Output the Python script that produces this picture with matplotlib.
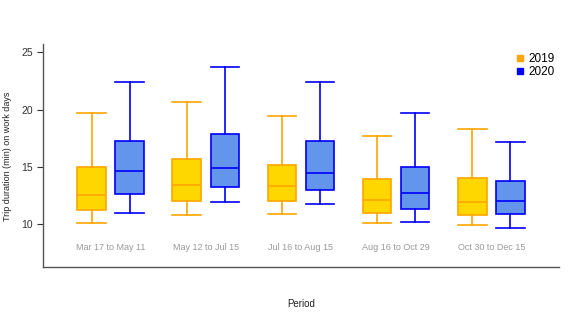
import matplotlib
matplotlib.use("Agg")
import matplotlib.pyplot as plt
from matplotlib.lines import Line2D

plt.rcParams['font.family'] = ['Liberation Sans', 'DejaVu Sans']

periods = ["Mar 17 to May 11", "May 12 to Jul 15", "Jul 16 to Aug 15",
           "Aug 16 to Oct 29", "Oct 30 to Dec 15"]
# five-number summaries: low whisker, Q1, median, Q3, high whisker
stats_2019 = [
    [10.1, 11.2, 12.5, 15.0, 19.7],
    [10.8, 12.0, 13.4, 15.7, 20.7],
    [10.9, 12.0, 13.3, 15.2, 19.4],
    [10.1, 11.0, 12.1, 13.9, 17.7],
    [9.9, 10.8, 11.9, 14.0, 18.3],
]
stats_2020 = [
    [11.0, 12.6, 14.6, 17.3, 22.4],
    [11.9, 13.2, 14.9, 17.9, 23.7],
    [11.8, 13.0, 14.5, 17.3, 22.4],
    [10.2, 11.3, 12.7, 15.0, 19.7],
    [9.7, 10.9, 12.0, 13.8, 17.2],
]
years = ["2019", "2020"]

fig = plt.figure(figsize=(5.81, 3.22), dpi=100)
ax = fig.add_axes([0.074, 0.1717, 0.888, 0.6913])

def to_bxp(stats):
    return [dict(whislo=s[0], q1=s[1], med=s[2], q3=s[3], whishi=s[4], fliers=[])
            for s in stats]

styles = [
    dict(fill="#FFD700", edge="#FFA500", off=-0.2),
    dict(fill="#6495ED", edge="#0000FF", off=0.2),
]
for stats, st in zip([stats_2019, stats_2020], styles):
    pos = [i + st["off"] for i in range(len(periods))]
    ax.bxp(to_bxp(stats), positions=pos, widths=0.3, patch_artist=True,
           showfliers=False,
           boxprops=dict(facecolor=st["fill"], edgecolor=st["edge"], linewidth=1.2),
           medianprops=dict(color=st["edge"], linewidth=1.2),
           whiskerprops=dict(color=st["edge"], linewidth=1.2),
           capprops=dict(color=st["edge"], linewidth=1.2),
           capwidths=0.3)

for i, p in enumerate(periods):
    ax.text(i, 8.0, p, ha="center", va="center", fontsize=6.5, color="#999999")

ax.set_xlim(-0.71, 4.71)
ax.set_ylim(6.28, 25.72)
ax.set_yticks([10, 15, 20, 25])
ax.set_xticks([])
for s in ["top", "right"]:
    ax.spines[s].set_visible(False)
for s in ["left", "bottom"]:
    ax.spines[s].set_color("#555555")
    ax.spines[s].set_linewidth(1.0)
ax.tick_params(axis="y", labelsize=7.5, colors="#333333", length=4, width=0.8)
fig.text(0.013, 0.515, "Trip duration (min) on work days", rotation=90,
         ha="center", va="center", fontsize=6.5, color="#222222")
fig.text(0.518, 0.056, "Period", ha="center", va="center", fontsize=7, color="#222222")

handles = [Line2D([], [], marker="s", linestyle="none", color=c, markersize=4)
           for c in ["#FFA500", "#0000FF"]]
ax.legend(handles, years, loc="upper right", bbox_to_anchor=(1.0, 0.98),
          frameon=False, fontsize=8.5, handletextpad=0.2, labelspacing=0.1,
          handlelength=1.0, borderaxespad=0)

fig.savefig("out.png", dpi=100)
